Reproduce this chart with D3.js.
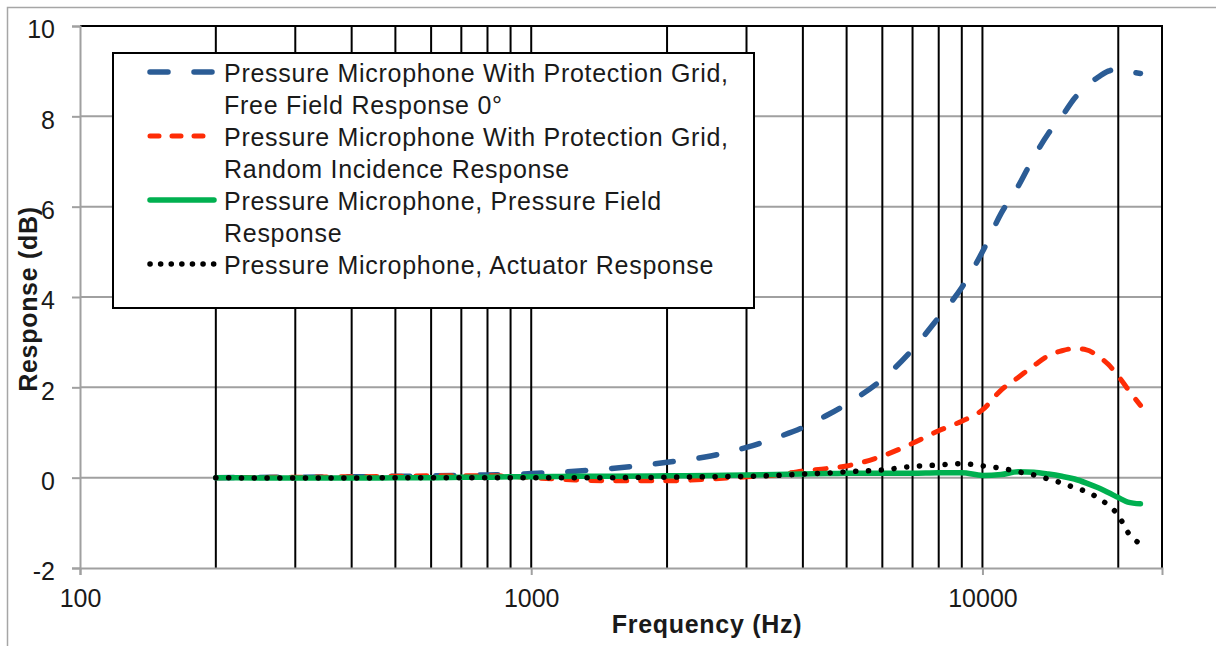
<!DOCTYPE html>
<html>
<head>
<meta charset="utf-8">
<script src="https://cdn.jsdelivr.net/npm/d3@7"></script>
<style>
  html, body { margin: 0; padding: 0; background: #fff; }
  svg { display: block; font-family: "Liberation Sans", Arial, sans-serif; }
</style>
</head>
<body>
<div id="chart"></div>
<script>
// frequencies (Hz) shared by all four curves
const freqs = [200, 300, 400, 500, 600, 700, 800, 900, 1000, 1250, 1500, 2000, 2500, 3000, 3500,
  4000, 4500, 5000, 6000, 7000, 8000, 9000, 10000, 11000, 12000, 13000, 14000, 15000, 16000,
  17000, 18000, 19000, 20000, 21000, 22400];

const freeField = [0.0, 0.01, 0.02, 0.03, 0.04, 0.05, 0.06, 0.07, 0.09, 0.14, 0.2, 0.34, 0.48, 0.67, 0.89,
  1.11, 1.37, 1.63, 2.18, 2.84, 3.55, 4.21, 5.0, 5.85, 6.45, 7.1, 7.62, 8.0, 8.4,
  8.67, 8.86, 9.0, 9.05, 9.0, 8.95];

const randomInc = [0.0, 0.01, 0.02, 0.03, 0.04, 0.04, 0.04, 0.03, 0.0, -0.05, -0.07, -0.07, -0.03, 0.02, 0.06,
  0.15, 0.2, 0.26, 0.48, 0.76, 1.04, 1.25, 1.5, 1.94, 2.22, 2.48, 2.7, 2.81, 2.86,
  2.83, 2.7, 2.51, 2.25, 1.96, 1.6];

const pressureField = [0.0, -0.01, -0.01, 0.0, 0.0, 0.01, 0.01, 0.02, 0.02, 0.03, 0.03, 0.04, 0.05, 0.06, 0.07,
  0.08, 0.09, 0.1, 0.1, 0.1, 0.11, 0.11, 0.05, 0.07, 0.13, 0.12, 0.08, 0.03, -0.03,
  -0.12, -0.22, -0.33, -0.44, -0.54, -0.58];

const actuator = [0.0, -0.01, -0.01, 0.0, 0.0, 0.0, 0.0, 0.0, 0.0, 0.0, 0.0, 0.01, 0.02, 0.03, 0.05,
  0.08, 0.1, 0.13, 0.17, 0.25, 0.28, 0.31, 0.26, 0.21, 0.13, 0.06, -0.03, -0.12, -0.22,
  -0.31, -0.44, -0.61, -0.83, -1.21, -1.47];

const yTicks = [-2, 0, 2, 4, 6, 8, 10];
const xTicks = [100, 1000, 10000];
const gridFreqs = [200, 300, 400, 500, 600, 700, 800, 900, 1000,
  2000, 3000, 4000, 5000, 6000, 7000, 8000, 9000, 10000, 20000];

const series = [
  { name: ['Pressure Microphone With Protection Grid,', 'Free Field Response 0°'], values: freeField,
    color: '#2b5c95', width: 5.5, dash: '18 26', legendDash: '18 26' },
  { name: ['Pressure Microphone With Protection Grid,', 'Random Incidence Response'], values: randomInc,
    color: '#fe2c06', width: 5, dash: '11 14', legendDash: '9 13' },
  { name: ['Pressure Microphone, Pressure Field', 'Response'], values: pressureField,
    color: '#00b050', width: 5.5, dash: null, legendDash: null },
  { name: ['Pressure Microphone, Actuator Response'], values: actuator,
    color: '#000000', width: 5.5, dash: '0.1 12.7', legendDash: '0.1 10.5' }
];

const W = 1216, H = 646;
const pLeft = 80, pRight = 1162, pTop = 26, pBottom = 568;

const svg = d3.select('#chart').append('svg')
  .attr('width', W).attr('height', H);

// outer chart frame (runs past the crop on the right/bottom)
svg.append('rect')
  .attr('x', 7.5).attr('y', 7.5)
  .attr('width', W + 10).attr('height', H + 10)
  .attr('fill', '#fff').attr('stroke', '#a6a6a6').attr('stroke-width', 1.5);

const x = d3.scaleLog().domain([100, 25000]).range([pLeft, pRight]);
const y = d3.scaleLinear().domain([-2, 10]).range([pBottom, pTop]);

// horizontal grid (grey)
svg.append('g').selectAll('line')
  .data(yTicks.filter(v => v > -2 && v < 10))
  .enter().append('line')
    .attr('x1', pLeft).attr('x2', pRight)
    .attr('y1', d => y(d)).attr('y2', d => y(d))
    .attr('stroke', '#a0a0a0').attr('stroke-width', 2);

// vertical grid (black)
svg.append('g').selectAll('line')
  .data(gridFreqs)
  .enter().append('line')
    .attr('x1', d => x(d)).attr('x2', d => x(d))
    .attr('y1', pTop).attr('y2', pBottom)
    .attr('stroke', '#000').attr('stroke-width', 2);

// black top + right border of the plot area
svg.append('path')
  .attr('d', `M${pLeft},${pTop}H${pRight}V${pBottom}`)
  .attr('fill', 'none').attr('stroke', '#000').attr('stroke-width', 2);

// axes
const yAxis = svg.append('g')
  .attr('transform', `translate(${pLeft},0)`)
  .call(d3.axisLeft(y).tickValues(yTicks).tickSize(8).tickPadding(17).tickFormat(d => String(d)));
const xAxis = svg.append('g')
  .attr('transform', `translate(0,${pBottom})`)
  .call(d3.axisBottom(x).tickValues(xTicks).tickSize(7).tickFormat(d => String(d)).tickPadding(14));

[yAxis, xAxis].forEach(a => {
  a.select('.domain').attr('stroke', '#a0a0a0').attr('stroke-width', 2);
  a.selectAll('.tick line').attr('stroke', '#a0a0a0').attr('stroke-width', 2);
  a.selectAll('.tick text')
    .attr('fill', '#1a1a1a')
    .style('font-size', '25px')
    .style('font-family', '"Liberation Sans", Arial, sans-serif');
});
yAxis.selectAll('.tick text').attr('dy', '0.47em');
xAxis.selectAll('.tick text').attr('dy', '0.71em');

// curves
const line = d3.line()
  .x(d => x(d[0]))
  .y(d => y(d[1]))
  .curve(d3.curveMonotoneX);

svg.append('g').selectAll('path')
  .data(series)
  .enter().append('path')
    .attr('d', s => line(freqs.map((f, i) => [f, s.values[i]])))
    .attr('fill', 'none')
    .attr('stroke', s => s.color)
    .attr('stroke-width', s => s.width)
    .attr('stroke-linecap', 'round')
    .attr('stroke-linejoin', 'round')
    .attr('stroke-dasharray', s => s.dash);

// axis titles
svg.append('text')
  .attr('x', 707).attr('y', 633)
  .attr('text-anchor', 'middle')
  .attr('font-weight', 'bold').attr('font-size', 25).attr('fill', '#1a1a1a')
  .attr('letter-spacing', 0.7)
  .text('Frequency (Hz)');

svg.append('text')
  .attr('transform', 'translate(37,299) rotate(-90)')
  .attr('text-anchor', 'middle')
  .attr('font-weight', 'bold').attr('font-size', 25).attr('fill', '#1a1a1a')
  .attr('letter-spacing', 0.7)
  .text('Response (dB)');

// legend
const lg = svg.append('g');
lg.append('rect')
  .attr('x', 113).attr('y', 53).attr('width', 641).attr('height', 255)
  .attr('fill', '#fff').attr('stroke', '#000').attr('stroke-width', 2);

let row = 0;
series.forEach(s => {
  const cy = 82 + row * 32 - 10;
  lg.append('line')
    .attr('x1', 150).attr('x2', 214)
    .attr('y1', cy).attr('y2', cy)
    .attr('stroke', s.color)
    .attr('stroke-width', s.width)
    .attr('stroke-linecap', 'round')
    .attr('stroke-dasharray', s.legendDash);
  s.name.forEach(t => {
    lg.append('text')
      .attr('x', 224).attr('y', 82 + row * 32)
      .attr('font-size', 25).attr('fill', '#1a1a1a')
      .attr('letter-spacing', 0.72)
      .text(t);
    row++;
  });
});
</script>
</body>
</html>
